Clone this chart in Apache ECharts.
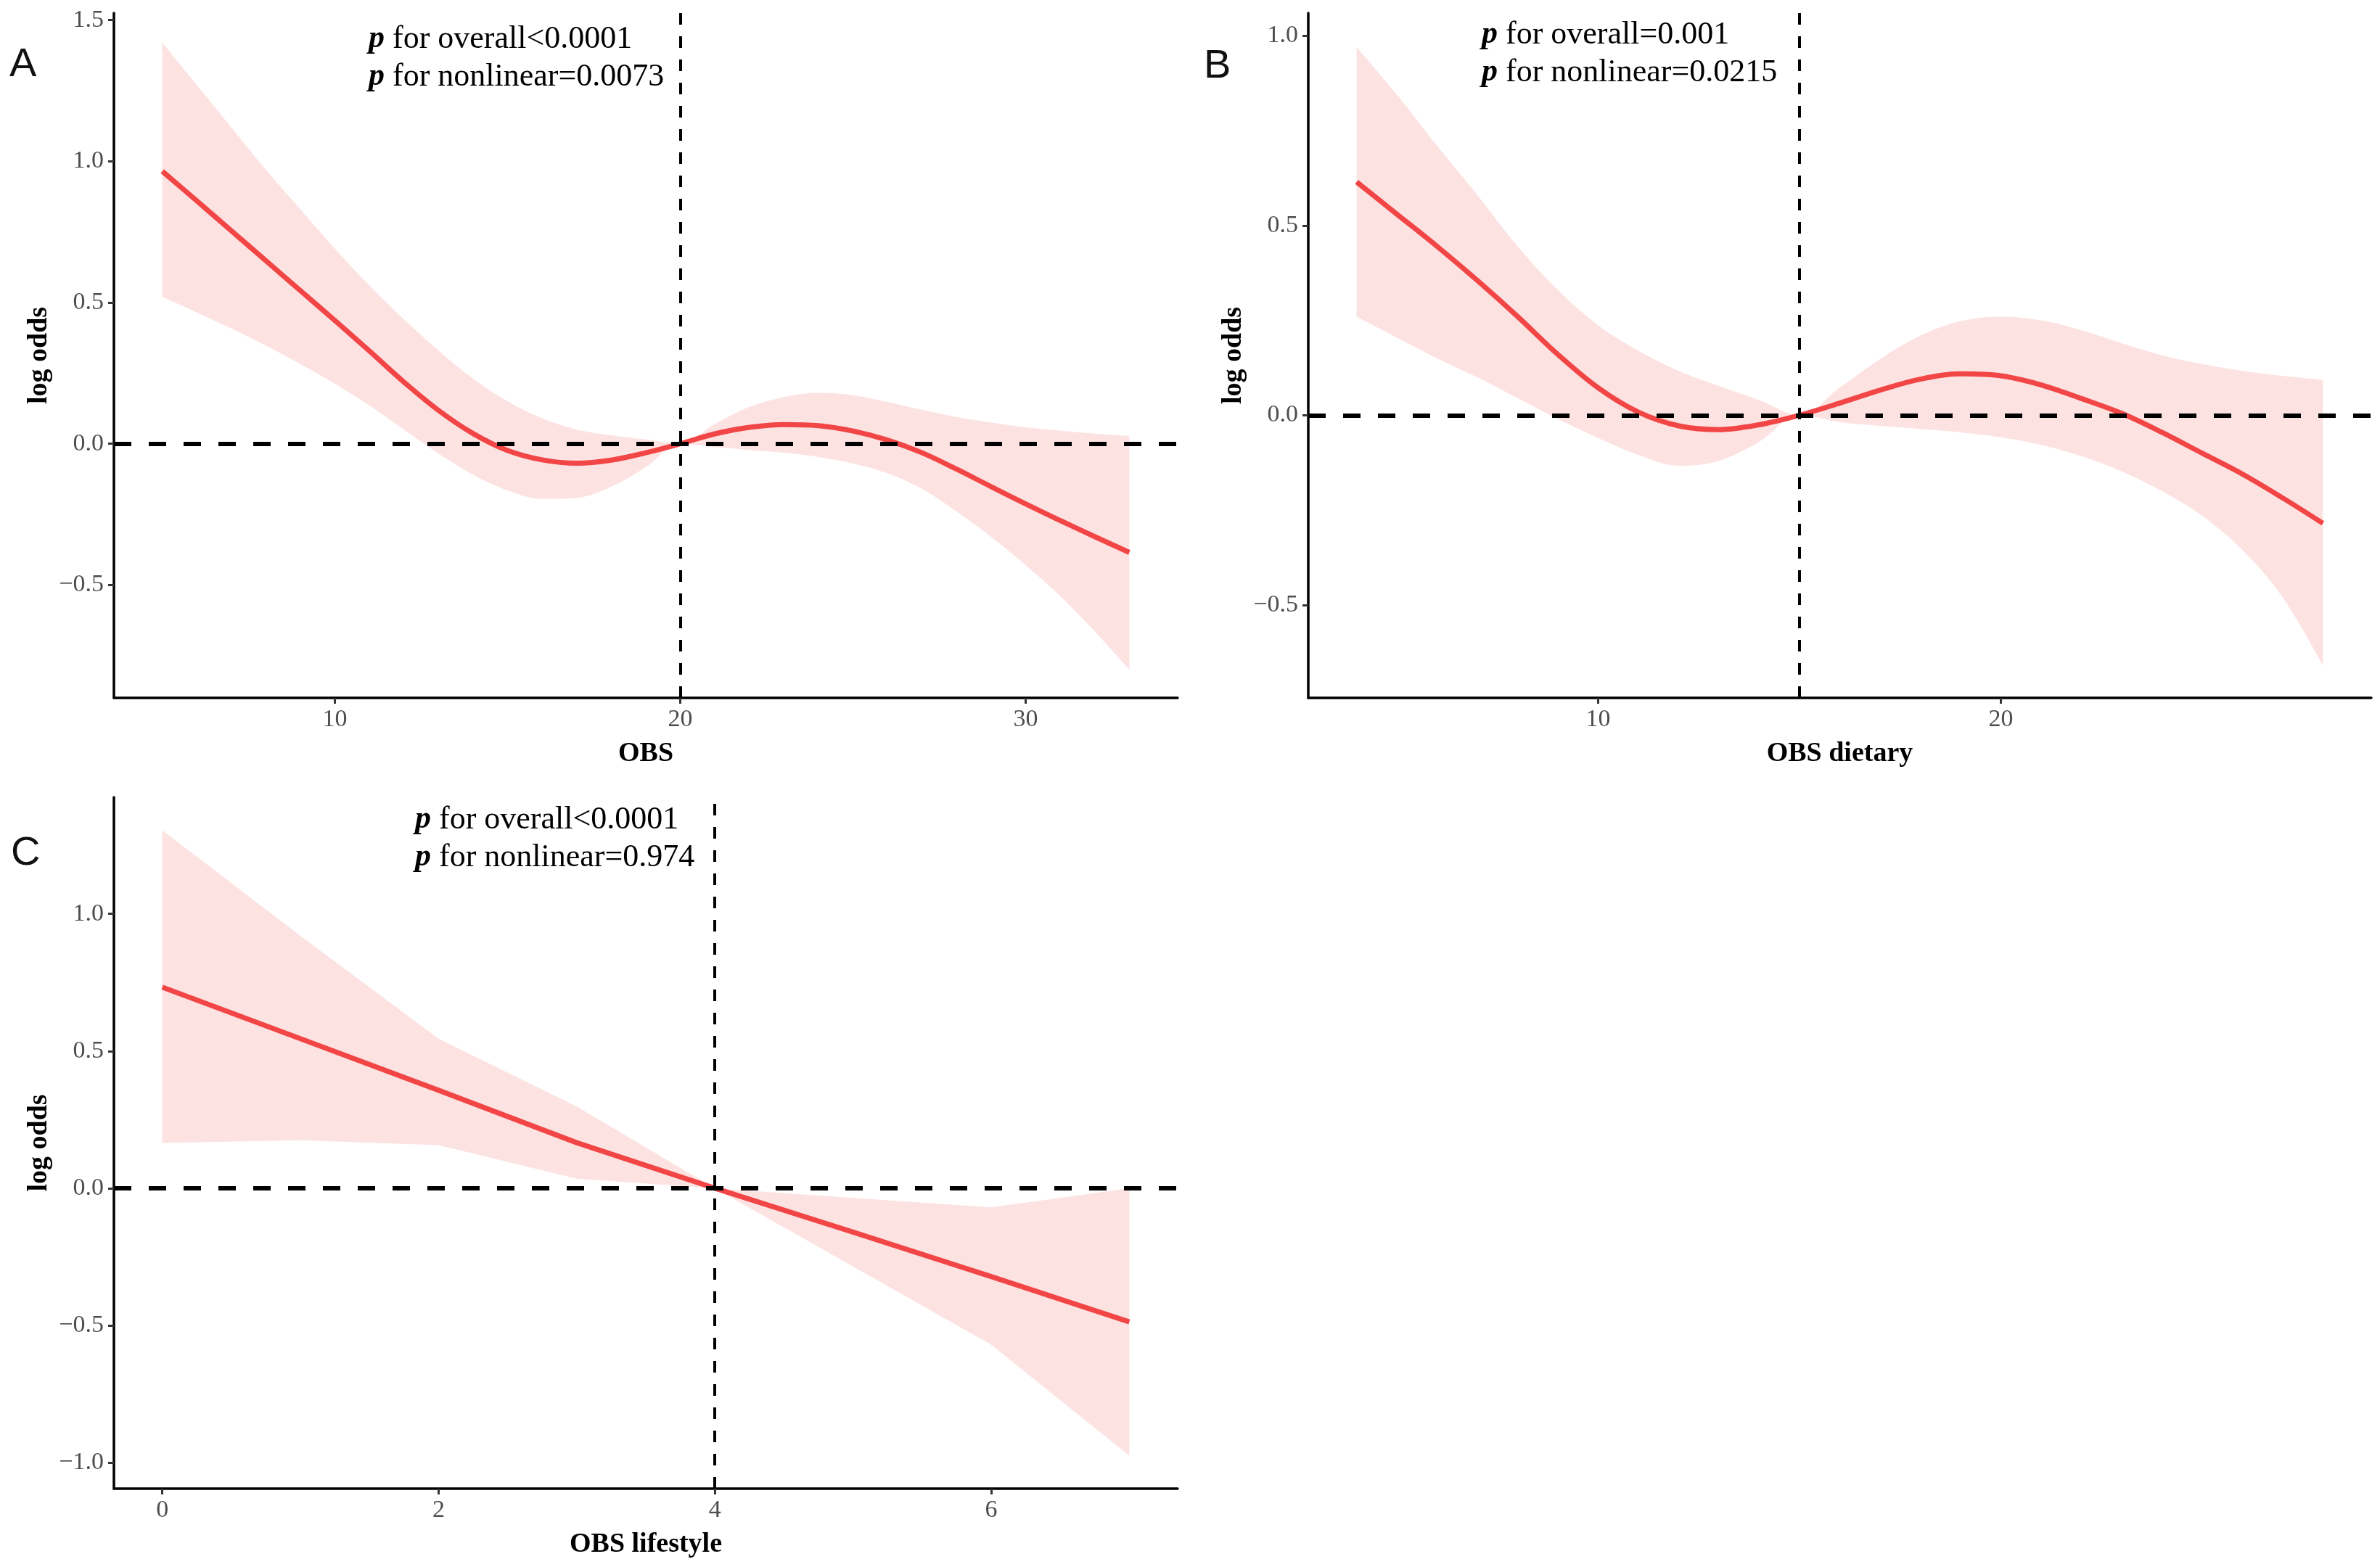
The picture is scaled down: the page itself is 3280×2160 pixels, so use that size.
<!DOCTYPE html>
<html><head><meta charset="utf-8">
<script src="https://cdn.jsdelivr.net/npm/echarts@6/dist/echarts.min.js"></script>
<style>html,body{margin:0;padding:0;background:#fff}#c{width:3280px;height:2160px}</style>
</head><body><div id="c"></div>
<script>
// ---- Panel A: OBS ----
const xA = [5,6,7,8,9,10,11,12,13,14,15,16,17,18,19,20,21,22,23,24,25,26,27,28,29,30,31,32,33];
const fitA = [0.965,0.86,0.754,0.648,0.542,0.436,0.328,0.218,0.118,0.036,-0.024,-0.057,-0.069,-0.058,-0.032,0,0.035,0.058,0.068,0.064,0.045,0.013,-0.032,-0.09,-0.152,-0.213,-0.272,-0.329,-0.385];
const upA = [1.42,1.27,1.12,0.97,0.83,0.69,0.56,0.44,0.33,0.23,0.15,0.09,0.05,0.03,0.015,0,0.07,0.13,0.165,0.18,0.172,0.148,0.12,0.095,0.075,0.058,0.046,0.036,0.028];
const loA = [0.52,0.465,0.408,0.347,0.282,0.212,0.135,0.05,-0.035,-0.11,-0.165,-0.195,-0.192,-0.152,-0.083,0,-0.012,-0.022,-0.032,-0.047,-0.07,-0.105,-0.16,-0.24,-0.33,-0.43,-0.54,-0.665,-0.80];
const refA = 20;
const xTicksA = [10,20,30];
const yTicksA = [-0.5,0,0.5,1.0,1.5];

// ---- Panel B: OBS dietary ----
const xB = [4,5,6,7,8,9,10,11,12,13,14,15,16,17,18,19,20,21,22,23,24,25,26,27,28];
const fitB = [0.615,0.53,0.445,0.355,0.26,0.16,0.072,0.008,-0.028,-0.038,-0.025,0,0.032,0.066,0.095,0.109,0.104,0.08,0.044,0.005,-0.045,-0.1,-0.155,-0.218,-0.285];
const upB = [0.97,0.845,0.71,0.58,0.445,0.33,0.237,0.17,0.117,0.077,0.04,0,0.073,0.148,0.21,0.248,0.26,0.25,0.224,0.19,0.158,0.135,0.117,0.104,0.093];
const loB = [0.26,0.205,0.15,0.10,0.045,-0.01,-0.06,-0.105,-0.133,-0.12,-0.07,0,-0.018,-0.028,-0.036,-0.045,-0.058,-0.078,-0.108,-0.148,-0.2,-0.265,-0.355,-0.48,-0.66];
const refB = 15;
const xTicksB = [10,20];
const yTicksB = [-0.5,0,0.5,1.0];

// ---- Panel C: OBS lifestyle ----
const xC = [0,1,2,3,4,5,6,7];
const fitC = [0.733,0.545,0.357,0.166,0,-0.16,-0.322,-0.487];
const upC = [1.305,0.92,0.545,0.298,0,-0.035,-0.07,0.0];
const loC = [0.165,0.175,0.157,0.035,0,-0.285,-0.57,-0.975];
const refC = 4;
const xTicksC = [0,2,4,6];
const yTicksC = [-1.0,-0.5,0,0.5,1.0];

const xTitles = ['OBS','OBS dietary','OBS lifestyle'];
const letters = ['A','B','C'];
const pOverall = ['<0.0001','=0.001','<0.0001'];
const pNonlin = ['=0.0073','=0.0215','=0.974'];

const SERIF = 'Liberation Serif';
const RED = '#F24545';
const BAND = '#FDE2E2';

const panels = [
  {x:xA, fit:fitA, up:upA, lo:loA, ref:refA, xt:xTicksA, yt:yTicksA, smooth:0.35,
   grid:{left:157, top:18, width:1466, height:944}, xr:[3.6,34.4], yr:[-0.9,1.525]},
  {x:xB, fit:fitB, up:upB, lo:loB, ref:refB, xt:xTicksB, yt:yTicksB, smooth:0.35,
   grid:{left:1803, top:18, width:1465, height:944}, xr:[2.8,29.2], yr:[-0.745,1.06]},
  {x:xC, fit:fitC, up:upC, lo:loC, ref:refC, xt:xTicksC, yt:yTicksC, smooth:false,
   grid:{left:157, top:1099, width:1466, height:953}, xr:[-0.35,7.35], yr:[-1.095,1.425]}
];

const pairs = (xs, ys) => xs.map((x, i) => [x, ys[i]]);
// value first so that stacking acts on the y value (dimension 0)
const pairsYX = (xs, ys) => xs.map((x, i) => [ys[i], x]);
const fmtY = v => (Math.round(v*10)/10).toFixed(1).replace('-', '\u2212');

const grid = [], xAxis = [], yAxis = [], series = [];
panels.forEach((p, i) => {
  grid.push(p.grid);
  xAxis.push({
    type:'value', gridIndex:i, min:p.xr[0], max:p.xr[1],
    axisLine:{show:true, onZero:false, lineStyle:{color:'#000', width:3.5}},
    axisTick:{show:true, length:8, lineStyle:{color:'#333', width:3}, customValues:p.xt},
    axisLabel:{customValues:p.xt, color:'#4D4D4D', fontSize:34, fontFamily:SERIF, margin:13, formatter:v=>String(v)},
    splitLine:{show:false},
    name:xTitles[i], nameLocation:'middle', nameGap:58,
    nameTextStyle:{fontFamily:SERIF, fontWeight:'bold', fontSize:38, color:'#000'}
  });
  yAxis.push({
    type:'value', gridIndex:i, min:p.yr[0], max:p.yr[1],
    axisLine:{show:true, onZero:false, lineStyle:{color:'#000', width:3.5}},
    axisTick:{show:true, length:8, lineStyle:{color:'#333', width:3}, customValues:p.yt},
    axisLabel:{customValues:p.yt, color:'#4D4D4D', fontSize:34, fontFamily:SERIF, margin:14, formatter:fmtY},
    splitLine:{show:false},
    name:'log odds', nameLocation:'middle', nameGap:84,
    nameTextStyle:{fontFamily:SERIF, fontWeight:'bold', fontSize:38, color:'#000'}
  });
  const diff = p.up.map((u, k) => u - p.lo[k]);
  series.push({
    type:'line', xAxisIndex:i, yAxisIndex:i, data:pairsYX(p.x, p.lo), encode:{x:1, y:0},
    stack:'band'+i, stackStrategy:'all',
    symbol:'none', smooth:p.smooth, lineStyle:{opacity:0}, silent:true, z:1
  });
  series.push({
    type:'line', xAxisIndex:i, yAxisIndex:i, data:pairsYX(p.x, diff), encode:{x:1, y:0},
    stack:'band'+i, stackStrategy:'all',
    symbol:'none', smooth:p.smooth, lineStyle:{opacity:0}, areaStyle:{color:BAND, opacity:1}, silent:true, z:1
  });
  series.push({
    type:'line', xAxisIndex:i, yAxisIndex:i, data:pairs(p.x, p.fit),
    symbol:'none', smooth:p.smooth, lineStyle:{color:RED, width:7}, silent:true, z:3,
    markLine:{
      silent:true, symbol:['none','none'], label:{show:false}, animation:false,
      data:[
        {yAxis:0, lineStyle:{color:'#000', width:6, type:[24,24]}},
        {xAxis:p.ref, lineStyle:{color:'#000', width:4, type:[16,16]}}
      ]
    }
  });
});

const letterPos = [[13,90],[1659,92],[15,1177]];
const annPos = [[508,54,106],[2042,48,100],[572,1130,1182]];
const graphic = [];
letters.forEach((L, i) => {
  graphic.push({type:'text', left:letterPos[i][0], top:letterPos[i][1]-28, z:100,
    style:{text:L, fontFamily:'Liberation Sans', fontSize:56, fill:'#111'}});
  const rich = {b:{fontFamily:SERIF, fontWeight:'bold', fontStyle:'italic', fontSize:44, fill:'#000'}};
  graphic.push({type:'text', left:annPos[i][0], top:annPos[i][1]-22, z:100,
    style:{text:'{b|p} for overall' + pOverall[i], rich:rich, fontFamily:SERIF, fontSize:44, fill:'#000'}});
  graphic.push({type:'text', left:annPos[i][0], top:annPos[i][2]-22, z:100,
    style:{text:'{b|p} for nonlinear' + pNonlin[i], rich:rich, fontFamily:SERIF, fontSize:44, fill:'#000'}});
});

const chart = echarts.init(document.getElementById('c'), null, {renderer:'canvas'});
chart.setOption({
  backgroundColor:'#fff', animation:false,
  grid, xAxis, yAxis, series, graphic
});
</script></body></html>
